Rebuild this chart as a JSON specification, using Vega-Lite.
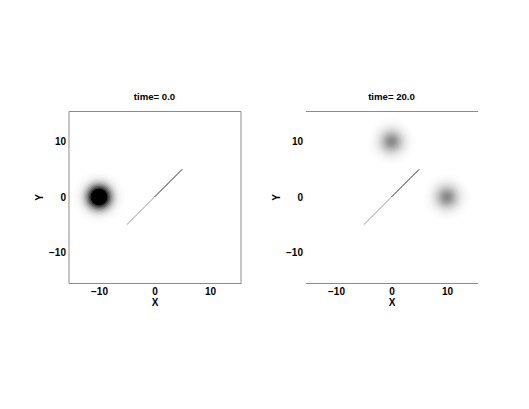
{
  "$schema": "https://vega.github.io/schema/vega-lite/v6.json",
  "autosize": {"type": "pad"},
  "padding": {"left": 33.5, "top": 91, "right": 5, "bottom": 5},
  "background": "white",
  "config": {
    "font": "Liberation Sans",
    "axis": {"labelFont": "Liberation Sans", "labelFontSize": 10, "labelFontWeight": "bold", "labelColor": "black", "titleFont": "Liberation Sans", "titleFontSize": 10, "titleFontWeight": "bold", "titleColor": "black", "grid": false, "ticks": false, "tickSize": 0, "labelPadding": 3},
    "title": {"font": "Liberation Sans", "fontSize": 9.6, "fontWeight": "bold", "color": "black", "offset": 9},
    "concat": {"spacing": 65}
  },
  "datasets": {
    "blobs": [
      {"panel": 1, "cx": -10, "cy": 0, "r": 4.75, "d": 0.006},
      {"panel": 1, "cx": -10, "cy": 0, "r": 4.5, "d": 0.011},
      {"panel": 1, "cx": -10, "cy": 0, "r": 4.25, "d": 0.019},
      {"panel": 1, "cx": -10, "cy": 0, "r": 4.0, "d": 0.031},
      {"panel": 1, "cx": -10, "cy": 0, "r": 3.75, "d": 0.05},
      {"panel": 1, "cx": -10, "cy": 0, "r": 3.5, "d": 0.08},
      {"panel": 1, "cx": -10, "cy": 0, "r": 3.25, "d": 0.121},
      {"panel": 1, "cx": -10, "cy": 0, "r": 3.0, "d": 0.179},
      {"panel": 1, "cx": -10, "cy": 0, "r": 2.75, "d": 0.257},
      {"panel": 1, "cx": -10, "cy": 0, "r": 2.5, "d": 0.356},
      {"panel": 1, "cx": -10, "cy": 0, "r": 2.25, "d": 0.48},
      {"panel": 1, "cx": -10, "cy": 0, "r": 2.0, "d": 0.625},
      {"panel": 1, "cx": -10, "cy": 0, "r": 1.75, "d": 0.79},
      {"panel": 1, "cx": -10, "cy": 0, "r": 1.5, "d": 0.969},
      {"panel": 1, "cx": -10, "cy": 0, "r": 1.25, "d": 1.0},
      {"panel": 2, "cx": 0, "cy": 10, "r": 4.25, "d": 0.008},
      {"panel": 2, "cx": 0, "cy": 10, "r": 4.0, "d": 0.012},
      {"panel": 2, "cx": 0, "cy": 10, "r": 3.75, "d": 0.019},
      {"panel": 2, "cx": 0, "cy": 10, "r": 3.5, "d": 0.029},
      {"panel": 2, "cx": 0, "cy": 10, "r": 3.25, "d": 0.043},
      {"panel": 2, "cx": 0, "cy": 10, "r": 3.0, "d": 0.061},
      {"panel": 2, "cx": 0, "cy": 10, "r": 2.75, "d": 0.084},
      {"panel": 2, "cx": 0, "cy": 10, "r": 2.5, "d": 0.114},
      {"panel": 2, "cx": 0, "cy": 10, "r": 2.25, "d": 0.149},
      {"panel": 2, "cx": 0, "cy": 10, "r": 2.0, "d": 0.189},
      {"panel": 2, "cx": 0, "cy": 10, "r": 1.75, "d": 0.234},
      {"panel": 2, "cx": 0, "cy": 10, "r": 1.5, "d": 0.282},
      {"panel": 2, "cx": 0, "cy": 10, "r": 1.25, "d": 0.33},
      {"panel": 2, "cx": 0, "cy": 10, "r": 1.0, "d": 0.375},
      {"panel": 2, "cx": 0, "cy": 10, "r": 0.75, "d": 0.414},
      {"panel": 2, "cx": 0, "cy": 10, "r": 0.5, "d": 0.444},
      {"panel": 2, "cx": 0, "cy": 10, "r": 0.25, "d": 0.464},
      {"panel": 2, "cx": 10, "cy": 0, "r": 4.25, "d": 0.008},
      {"panel": 2, "cx": 10, "cy": 0, "r": 4.0, "d": 0.012},
      {"panel": 2, "cx": 10, "cy": 0, "r": 3.75, "d": 0.019},
      {"panel": 2, "cx": 10, "cy": 0, "r": 3.5, "d": 0.029},
      {"panel": 2, "cx": 10, "cy": 0, "r": 3.25, "d": 0.043},
      {"panel": 2, "cx": 10, "cy": 0, "r": 3.0, "d": 0.061},
      {"panel": 2, "cx": 10, "cy": 0, "r": 2.75, "d": 0.084},
      {"panel": 2, "cx": 10, "cy": 0, "r": 2.5, "d": 0.114},
      {"panel": 2, "cx": 10, "cy": 0, "r": 2.25, "d": 0.149},
      {"panel": 2, "cx": 10, "cy": 0, "r": 2.0, "d": 0.189},
      {"panel": 2, "cx": 10, "cy": 0, "r": 1.75, "d": 0.234},
      {"panel": 2, "cx": 10, "cy": 0, "r": 1.5, "d": 0.282},
      {"panel": 2, "cx": 10, "cy": 0, "r": 1.25, "d": 0.33},
      {"panel": 2, "cx": 10, "cy": 0, "r": 1.0, "d": 0.375},
      {"panel": 2, "cx": 10, "cy": 0, "r": 0.75, "d": 0.414},
      {"panel": 2, "cx": 10, "cy": 0, "r": 0.5, "d": 0.444},
      {"panel": 2, "cx": 10, "cy": 0, "r": 0.25, "d": 0.464}
    ],
    "segs": [
      {"x": -5, "y": -5, "x2": 0, "y2": 0, "seg": "lower"},
      {"x": 0, "y": 0, "x2": 5, "y2": 5, "seg": "upper"}
    ]
  },
  "bounds": "flush",
  "hconcat": [
    {
      "width": 172,
      "height": 172,
      "title": {"text": "time= 0.0"},
      "view": {"stroke": "#8c8c8c", "strokeWidth": 1},
      "layer": [
        {
          "data": {"name": "blobs"},
          "transform": [{"filter": "datum.panel == 1"}],
          "mark": {"type": "point", "shape": "circle", "filled": true, "opacity": 1, "strokeWidth": 0, "clip": true},
          "encoding": {
            "x": {"field": "cx", "type": "quantitative", "scale": {"domain": [-15.5, 15.5], "nice": false, "zero": false}, "axis": {"title": "X", "values": [-10, 0, 10], "domain": false, "titlePadding": 1}},
            "y": {"field": "cy", "type": "quantitative", "scale": {"domain": [-15.5, 15.5], "nice": false, "zero": false}, "axis": {"title": "Y", "values": [-10, 0, 10], "domain": false, "titlePadding": 4}},
            "size": {"field": "r", "type": "quantitative", "scale": {"type": "pow", "exponent": 2, "domain": [0, 10], "range": [0, 12314]}, "legend": null},
            "fill": {"field": "d", "type": "quantitative", "scale": {"domain": [0, 1], "range": ["#ffffff", "#000000"], "interpolate": "rgb", "clamp": true}, "legend": null},
            "order": {"field": "r", "sort": "descending"}
          }
        },
        {
          "data": {"name": "segs"},
          "mark": {"type": "rule", "strokeWidth": 1},
          "encoding": {
            "x": {"field": "x", "type": "quantitative"},
            "y": {"field": "y", "type": "quantitative"},
            "x2": {"field": "x2"},
            "y2": {"field": "y2"},
            "stroke": {"field": "seg", "type": "nominal", "scale": {"domain": ["lower", "upper"], "range": ["#9a9a9a", "#2a2a2a"]}, "legend": null}
          }
        }
      ]
    },
    {
      "width": 172,
      "height": 172,
      "title": {"text": "time= 20.0"},
      "view": {"stroke": null},
      "resolve": {"axis": {"x": "independent"}},
      "layer": [
        {
          "data": {"name": "blobs"},
          "transform": [{"filter": "datum.panel == 2"}],
          "mark": {"type": "point", "shape": "circle", "filled": true, "opacity": 1, "strokeWidth": 0, "clip": true},
          "encoding": {
            "x": {"field": "cx", "type": "quantitative", "scale": {"domain": [-15.5, 15.5], "nice": false, "zero": false}, "axis": {"title": "X", "values": [-10, 0, 10], "domain": true, "domainColor": "#8c8c8c", "titlePadding": 1}},
            "y": {"field": "cy", "type": "quantitative", "scale": {"domain": [-15.5, 15.5], "nice": false, "zero": false}, "axis": {"title": "Y", "values": [-10, 0, 10], "domain": false, "titlePadding": 4}},
            "size": {"field": "r", "type": "quantitative", "scale": {"type": "pow", "exponent": 2, "domain": [0, 10], "range": [0, 12314]}, "legend": null},
            "fill": {"field": "d", "type": "quantitative", "scale": {"domain": [0, 1], "range": ["#ffffff", "#000000"], "interpolate": "rgb", "clamp": true}, "legend": null},
            "order": {"field": "r", "sort": "descending"}
          }
        },
        {
          "data": {"name": "segs"},
          "mark": {"type": "rule", "strokeWidth": 1},
          "encoding": {
            "x": {"field": "x", "type": "quantitative", "axis": {"orient": "top", "title": null, "labels": false, "ticks": false, "domain": true, "domainColor": "#8c8c8c"}},
            "y": {"field": "y", "type": "quantitative"},
            "x2": {"field": "x2"},
            "y2": {"field": "y2"},
            "stroke": {"field": "seg", "type": "nominal", "scale": {"domain": ["lower", "upper"], "range": ["#9a9a9a", "#2a2a2a"]}, "legend": null}
          }
        }
      ]
    }
  ]
}
